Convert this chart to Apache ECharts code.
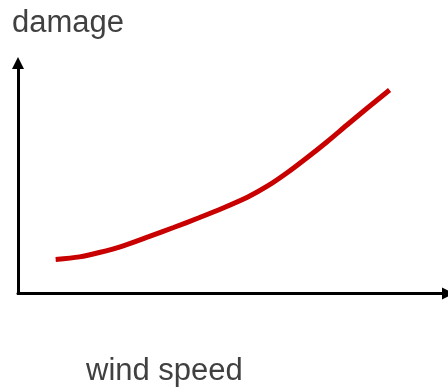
<!DOCTYPE html>
<html>
<head>
<meta charset="utf-8">
<script src="https://cdn.jsdelivr.net/npm/echarts@6/dist/echarts.min.js"></script>
<style>
html,body{margin:0;padding:0;background:#fff;}
#c{width:448px;height:388px;}
</style>
</head>
<body>
<div id="c"></div>
<script>
var windSpeed = [8.76, 14.29, 18.89, 24.65, 30.41, 36.18, 41.94, 47.70, 53.46, 58.06, 62.67, 67.28, 71.89, 76.50, 81.11, 86.41];
var damage    = [14.75, 15.88, 17.79, 20.82, 24.64, 28.63, 32.75, 37.09, 41.87, 46.64, 52.49, 59.00, 65.86, 73.10, 80.26, 88.29];
var xLabel = 'wind speed';
var yLabel = 'damage';

var points = windSpeed.map(function (v, i) { return [v, damage[i]]; });

var chart = echarts.init(document.getElementById('c'), null, {renderer: 'canvas'});
var axisLine = {
  show: true,
  symbol: ['none', 'triangle'],
  symbolSize: [12, 12],
  lineStyle: {color: '#000', width: 3}
};
chart.setOption({
  animation: false,
  backgroundColor: '#fff',
  grid: {left: 18, top: 63, width: 434, bottom: 94.5, containLabel: false},
  xAxis: {
    type: 'value', min: 0, max: 100,
    axisLine: axisLine,
    axisTick: {show: false}, axisLabel: {show: false}, splitLine: {show: false}
  },
  yAxis: {
    type: 'value', min: 0, max: 100,
    axisLine: axisLine,
    axisTick: {show: false}, axisLabel: {show: false}, splitLine: {show: false}
  },
  graphic: [
    {type: 'text', left: 12, top: 8, style: {text: yLabel, font: '31px "Liberation Sans", Arial, sans-serif', fill: '#404040'}},
    {type: 'text', left: 86, top: 356, style: {text: xLabel, font: '31px "Liberation Sans", Arial, sans-serif', fill: '#404040'}}
  ],
  series: [{
    type: 'line',
    data: points,
    smooth: 0.3,
    showSymbol: false,
    lineStyle: {color: '#c80000', width: 5, cap: 'butt'}
  }]
});
</script>
</body>
</html>
